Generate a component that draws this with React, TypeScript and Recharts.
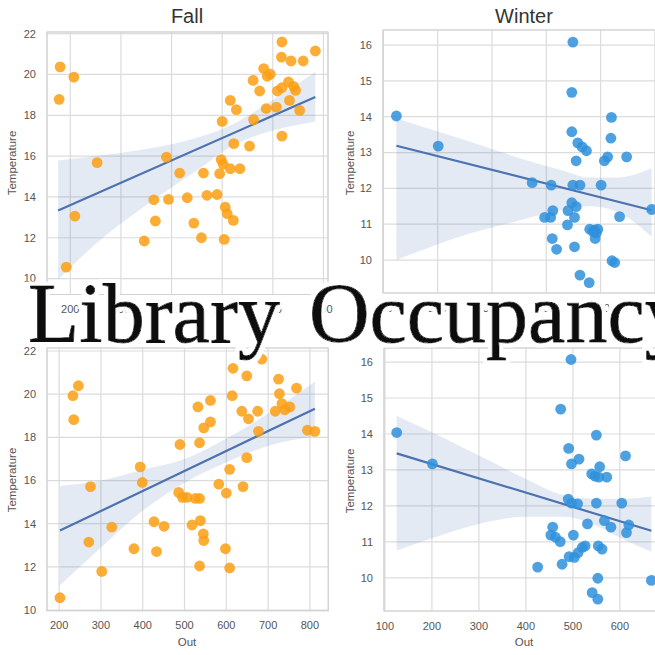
import React from 'react';
import { ComposedChart, Scatter, Line, Area, XAxis, YAxis, CartesianGrid, ReferenceArea } from 'recharts';

// ---------- Fall (top row) ----------
const fallTopX = [180, 207, 178, 253, 209, 192, 390, 416, 365, 394, 431, 368, 346, 444, 459, 463, 470, 490, 495, 498, 502, 516, 535, 506, 510, 522, 504, 500, 516, 528, 523, 554, 562, 561, 574, 582, 589, 595, 587, 607, 618, 617, 636, 660, 684, 618, 609, 618, 631, 641, 645, 633, 653];
const fallTopTemp = [20.37, 19.87, 18.78, 15.68, 13.06, 10.56, 15.95, 15.17, 13.86, 13.88, 13.96, 12.82, 11.84, 12.72, 12.0, 15.17, 14.08, 14.12, 15.14, 15.83, 15.6, 15.38, 15.38, 13.5, 13.18, 12.85, 11.92, 17.7, 18.73, 18.28, 16.61, 16.49, 17.79, 19.71, 19.19, 20.29, 19.91, 20.01, 18.33, 18.4, 21.59, 20.85, 20.66, 20.66, 21.15, 16.98, 19.19, 19.35, 19.63, 19.42, 19.22, 18.73, 18.24];
const fallTopFitX = [176, 684];
const fallTopFitTemp = [13.34, 18.9];
const fallTopBandX = [176, 250, 350, 450, 520, 600, 684];
const fallTopBandLow = [9.95, 11.7, 13.6, 15.3, 16.5, 17.25, 17.7];
const fallTopBandHigh = [15.78, 16.0, 16.35, 16.9, 17.55, 18.75, 20.12];

// ---------- Winter (top row) ----------
const winterTopX = [124, 201, 374, 409, 412, 397, 408, 411, 419, 449, 447, 447, 455, 458, 466, 474, 449, 462, 447, 455, 440, 452, 439, 452, 462, 479, 480, 489, 492, 495, 490, 486, 501, 507, 513, 519, 520, 548, 535, 521, 526, 594];
const winterTopTemp = [14.02, 13.18, 12.16, 12.09, 11.38, 11.19, 11.19, 10.6, 10.3, 16.08, 14.68, 13.58, 12.77, 13.27, 13.16, 13.05, 12.09, 12.09, 11.6, 11.49, 11.38, 11.19, 10.98, 10.37, 9.58, 9.37, 10.86, 10.84, 10.75, 10.86, 10.6, 10.8, 12.09, 12.77, 12.88, 13.4, 13.98, 12.88, 11.21, 9.98, 9.93, 11.41];
const winterTopFitX = [124, 594];
const winterTopFitTemp = [13.19, 11.39];
const winterTopBandX = [124, 250, 350, 430, 480, 530, 594];
const winterTopBandLow = [10.0, 10.7, 11.1, 11.4, 11.5, 11.35, 10.65];
const winterTopBandHigh = [13.95, 13.35, 12.85, 12.5, 12.3, 12.3, 12.56];

// ---------- Fall (bottom row, Out) ----------
const fallOut = [202, 235, 233, 246, 275, 271, 302, 326, 394, 399, 379, 427, 433, 451, 486, 495, 489, 536, 532, 546, 562, 562, 506, 526, 536, 518, 538, 545, 546, 536, 582, 600, 598, 608, 608, 614, 616, 637, 653, 649, 640, 649, 685, 675, 677, 725, 727, 717, 733, 740, 752, 768, 794, 812];
const fallOutTemp = [10.57, 18.82, 19.93, 20.39, 15.72, 13.15, 11.79, 13.84, 16.63, 15.91, 12.84, 14.09, 12.71, 13.88, 15.45, 15.22, 17.67, 17.75, 19.41, 18.44, 18.72, 19.71, 15.22, 15.17, 15.17, 13.94, 14.14, 13.53, 13.22, 12.04, 15.83, 15.42, 12.84, 11.95, 16.52, 19.93, 21.2, 19.21, 18.86, 17.06, 15.72, 20.85, 21.62, 19.21, 18.28, 20.7, 20.02, 19.21, 19.56, 19.28, 19.41, 20.28, 18.33, 18.28];
const fallOutFitX = [202, 812];
const fallOutFitTemp = [13.68, 19.33];
const fallOutBandX = [202, 300, 400, 500, 600, 700, 812];
const fallOutBandLow = [11.15, 12.9, 14.6, 15.9, 16.85, 17.6, 18.05];
const fallOutBandHigh = [15.75, 16.0, 16.5, 17.0, 17.95, 19.1, 20.59];

// ---------- Winter (bottom row, Out) ----------
const winterOut = [125, 201, 425, 474, 496, 491, 497, 513, 490, 497, 510, 457, 453, 463, 473, 501, 477, 492, 503, 511, 520, 526, 550, 540, 547, 557, 555, 572, 550, 531, 567, 581, 554, 562, 553, 541, 553, 604, 612, 619, 614, 667];
const winterOutTemp = [14.04, 13.17, 10.3, 14.69, 16.07, 13.6, 13.17, 13.3, 12.19, 12.08, 12.06, 11.41, 11.19, 11.13, 11.01, 11.19, 10.38, 10.59, 10.57, 10.7, 10.85, 10.89, 13.97, 12.89, 12.83, 13.09, 12.8, 12.8, 12.08, 11.5, 11.59, 11.41, 10.89, 10.8, 9.99, 9.59, 9.41, 12.08, 13.39, 11.47, 11.26, 9.93];
const winterOutFitX = [125, 667];
const winterOutFitTemp = [13.46, 11.31];
const winterOutBandX = [125, 200, 300, 400, 480, 550, 610, 667];
const winterOutBandLow = [10.76, 11.1, 11.5, 11.7, 11.7, 11.45, 11.05, 10.73];
const winterOutBandHigh = [14.5, 14.05, 13.4, 12.75, 12.3, 12.2, 12.2, 12.26];

// ---------- ticks ----------
const fallTopXTicks = [200, 300, 400, 500, 600, 700];
const winterXTicks = [100, 200, 300, 400, 500, 600];
const fallOutXTicks = [200, 300, 400, 500, 600, 700, 800];
const fallYTicks = [10, 12, 14, 16, 18, 20, 22];
const winterYTicks = [10, 11, 12, 13, 14, 15, 16];

const FALL_COLOR = '#fb9f12';
const WINTER_COLOR = '#2f91dc';
const FIT_COLOR = '#4c72b0';
const SANS = "'Liberation Sans', Arial, 'DejaVu Sans', sans-serif";
const SERIF = "'Liberation Serif', 'Times New Roman', serif";

const zipPts = (xs: number[], ys: number[]) => xs.map((x, i) => ({ x, y: ys[i] }));
const zipBand = (xs: number[], lo: number[], hi: number[]) => xs.map((x, i) => ({ x, band: [lo[i], hi[i]] }));

type Frame = { x: number; y: number; w: number; h: number };

function Panel(props: {
  f: Frame; xd: [number, number]; yd: [number, number]; xt: number[]; yt: number[];
  pts: { x: number; y: number }[]; fit: { x: number; y: number }[]; band: { x: number; band: number[] }[]; color: string;
}) {
  const { f, xd, yd, xt, yt, pts, fit, band, color } = props;
  const ML = 46, MT = 30, MR = 14, MB = 40;
  const tickStyle = { fontSize: 11, fill: '#555', fontFamily: SANS };
  return (
    <div style={{ position: 'absolute', left: f.x - ML, top: f.y - MT }}>
      <ComposedChart width={f.w + ML + MR} height={f.h + MT + MB} margin={{ top: MT, right: MR, bottom: 0, left: 0 }}>
        <CartesianGrid stroke="#dcdcdc" strokeWidth={1.2} />
        <XAxis type="number" dataKey="x" domain={xd} ticks={xt} allowDataOverflow height={MB}
          tickLine={false} axisLine={false} tickSize={0} tickMargin={11} tick={tickStyle} interval={0} />
        <YAxis type="number" domain={yd} ticks={yt} allowDataOverflow width={ML}
          tickLine={false} axisLine={false} tickSize={0} tickMargin={11} tick={tickStyle} interval={0} />
        <Scatter data={pts} dataKey="y" isAnimationActive={false}
          shape={(p: any) => <circle cx={p.cx} cy={p.cy} r={5.4} fill={color} fillOpacity={0.85} />} />
        <Area data={band} dataKey="band" type="monotone" fill={FIT_COLOR} fillOpacity={0.15} stroke="none"
          isAnimationActive={false} dot={false} activeDot={false} />
        <Line data={fit} dataKey="y" type="linear" stroke={FIT_COLOR} strokeWidth={2.2} dot={false}
          activeDot={false} isAnimationActive={false} />
        <ReferenceArea x1={xd[0]} x2={xd[1]} y1={yd[0]} y2={yd[1]} fill="none" fillOpacity={0}
          stroke="#d2d2d2" strokeWidth={1.2} ifOverflow="visible" />
      </ComposedChart>
    </div>
  );
}

export default function App() {
  const labelStyle = { fontFamily: SANS, fill: '#555' };
  return (
    <div style={{ position: 'absolute', left: 0, top: 0, width: 655, height: 655, overflow: 'hidden', background: '#fff' }}>
      <Panel f={{ x: 46.7, y: 31.7, w: 281, h: 262.5 }} xd={[154, 709]} yd={[9.22, 22.08]} xt={fallTopXTicks} yt={fallYTicks}
        pts={zipPts(fallTopX, fallTopTemp)} fit={zipPts(fallTopFitX, fallTopFitTemp)}
        band={zipBand(fallTopBandX, fallTopBandLow, fallTopBandHigh)} color={FALL_COLOR} />
      <Panel f={{ x: 383.3, y: 30, w: 281, h: 263 }} xd={[99.3, 616.8]} yd={[9.08, 16.42]} xt={winterXTicks} yt={winterYTicks}
        pts={zipPts(winterTopX, winterTopTemp)} fit={zipPts(winterTopFitX, winterTopFitTemp)}
        band={zipBand(winterTopBandX, winterTopBandLow, winterTopBandHigh)} color={WINTER_COLOR} />
      <Panel f={{ x: 46.7, y: 348, w: 281.3, h: 262.7 }} xd={[171, 844]} yd={[9.97, 22.14]} xt={fallOutXTicks} yt={fallYTicks}
        pts={zipPts(fallOut, fallOutTemp)} fit={zipPts(fallOutFitX, fallOutFitTemp)}
        band={zipBand(fallOutBandX, fallOutBandLow, fallOutBandHigh)} color={FALL_COLOR} />
      <Panel f={{ x: 384, y: 348, w: 281, h: 263 }} xd={[98, 696]} yd={[9.08, 16.39]} xt={winterXTicks} yt={winterYTicks}
        pts={zipPts(winterOut, winterOutTemp)} fit={zipPts(winterOutFitX, winterOutFitTemp)}
        band={zipBand(winterOutBandX, winterOutBandLow, winterOutBandHigh)} color={WINTER_COLOR} />
      <svg width={655} height={655} style={{ position: 'absolute', left: 0, top: 0, pointerEvents: 'none' }}>
        <defs>
          <filter id="halo" x="-5%" y="-20%" width="110%" height="140%">
            <feMorphology in="SourceAlpha" operator="dilate" radius="3.5" result="grow" />
            <feFlood floodColor="#ffffff" floodOpacity="0.93" result="white" />
            <feComposite in="white" in2="grow" operator="in" result="ring" />
            <feMerge>
              <feMergeNode in="ring" />
              <feMergeNode in="SourceGraphic" />
            </feMerge>
          </filter>
        </defs>
        <text x={187} y={23} textAnchor="middle" fontSize={20} fontFamily={SANS} fill="#333">Fall</text>
        <text x={524} y={23} textAnchor="middle" fontSize={20} fontFamily={SANS} fill="#333">Winter</text>
        <text transform="translate(16,163) rotate(-90)" textAnchor="middle" fontSize={11.5} {...labelStyle}>Temperature</text>
        <text transform="translate(354,163) rotate(-90)" textAnchor="middle" fontSize={11.5} {...labelStyle}>Temperature</text>
        <text transform="translate(16,480) rotate(-90)" textAnchor="middle" fontSize={11.5} {...labelStyle}>Temperature</text>
        <text transform="translate(354,481) rotate(-90)" textAnchor="middle" fontSize={11.5} {...labelStyle}>Temperature</text>
        <text x={187} y={646} textAnchor="middle" fontSize={11.5} {...labelStyle}>Out</text>
        <text x={524} y={646} textAnchor="middle" fontSize={11.5} {...labelStyle}>Out</text>
        <text x={28} y={342} fontSize={84} fontFamily={SERIF} wordSpacing={8} filter="url(#halo)"
          fill="#111" stroke="#111" strokeWidth={0.9} strokeLinejoin="round">Library Occupancy</text>
      </svg>
    </div>
  );
}
